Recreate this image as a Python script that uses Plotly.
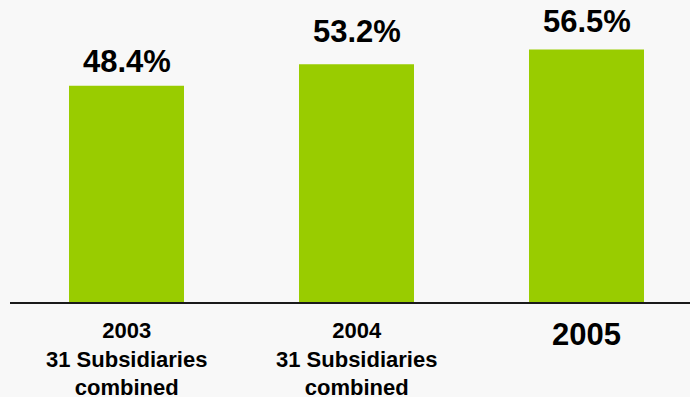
import plotly.graph_objects as go

categories = ["2003", "2004", "2005"]
values = [48.4, 53.2, 56.5]
value_labels = ["48.4%", "53.2%", "56.5%"]
category_labels = [
    "2003<br>31 Subsidiaries<br>combined",
    "2004<br>31 Subsidiaries<br>combined",
    "2005",
]
category_sizes = [22, 22, 31]

BAR_GREEN = "#99CC00"
BG = "#F8F8F8"
FONT = "Liberation Sans, Arial, sans-serif"

# vertical gap (px) between each value label and its bar
label_gaps = [5, 13, 9]

fig = go.Figure(
    go.Bar(
        x=categories,
        y=values,
        width=0.5,
        marker=dict(color=BAR_GREEN, line=dict(width=0)),
        hoverinfo="skip",
    )
)

# value labels above each bar (x given as category index)
for i, (val, lab) in enumerate(zip(values, value_labels)):
    fig.add_annotation(
        x=i, y=val, text=f"<b>{lab}</b>", showarrow=False,
        yanchor="bottom", yshift=label_gaps[i],
        font=dict(family=FONT, size=31, color="#000000"),
    )

# category labels under the baseline
for i, (lab, size) in enumerate(zip(category_labels, category_sizes)):
    fig.add_annotation(
        x=i, y=0, yref="paper", text=f"<b>{lab}</b>", showarrow=False,
        yanchor="top", yshift=-14 if size < 30 else -13,
        font=dict(family=FONT, size=size, color="#000000"),
    )

fig.update_layout(
    width=690, height=397,
    margin=dict(l=10, r=0, t=0, b=95),
    paper_bgcolor=BG, plot_bgcolor=BG,
    showlegend=False,
    xaxis=dict(
        type="category", range=[-0.5065, 2.45],
        showgrid=False, zeroline=False, showticklabels=False, ticks="",
        showline=True, linecolor="#1a1a1a", linewidth=2,
    ),
    yaxis=dict(
        range=[0, 67.6], visible=False, showgrid=False, zeroline=False,
    ),
)

fig.write_html("out.html")
